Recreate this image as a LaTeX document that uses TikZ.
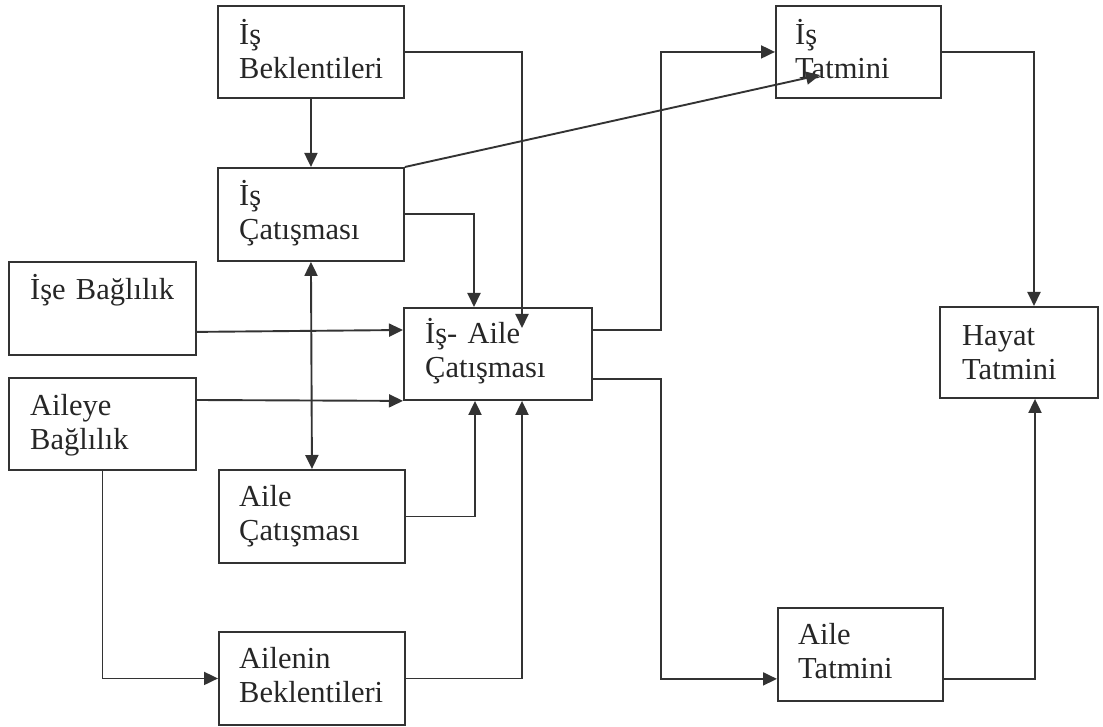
\documentclass[tikz,border=0pt]{standalone}
\usepackage{fontspec}
\setmainfont{Liberation Serif}
\usetikzlibrary{arrows.meta,calc}
\definecolor{ink}{HTML}{333333}
\begin{document}
\begin{tikzpicture}[x=1pt,y=-1pt,
  box/.style={draw=ink,line width=1.9pt,rectangle,inner sep=0pt,anchor=north west,minimum width=#1},
  box/.default=186pt,
  lbl/.style={anchor=base west,inner sep=0pt,text width=170pt,align=left,text=black!85,font=\fontsize{30.5}{34}\selectfont},
  arr/.style={draw=ink,line width=1.9pt,-{Triangle[length=14pt,width=13pt]}},
  darr/.style={draw=ink,line width=1.9pt,{Triangle[length=14pt,width=13pt]}-{Triangle[length=14pt,width=13pt]}}]
\useasboundingbox (0,0) rectangle (1103,727);
% boxes
\node[box=186pt,minimum height=92pt] (ib) at (217,5) {};
\node[box=186pt,minimum height=93pt] (ic) at (217,167) {};
\node[box=187pt,minimum height=93pt] (isb) at (8,261) {};
\node[box=187pt,minimum height=92pt] (ab) at (8,377) {};
\node[box=188pt,minimum height=92pt] (ia) at (403,307) {};
\node[box=186pt,minimum height=93pt] (ac) at (218,469) {};
\node[box=186pt,minimum height=93pt] (anb) at (218,631) {};
\node[box=165pt,minimum height=92pt] (it) at (775,5) {};
\node[box=158pt,minimum height=91pt] (ht) at (939,306) {};
\node[box=165pt,minimum height=93pt] (at) at (777,607) {};
% labels
\node[lbl] (tib) at ($(ib.north west)+(22,40)$) {İş\\Beklentileri};
\node[lbl] (tic) at ($(ic.north west)+(22,39)$) {İş\\Çatışması};
\node[lbl] (tisb) at ($(isb.north west)+(22,39)$) {İşe Bağlılık};
\node[lbl] (tab) at ($(ab.north west)+(22,38)$) {Aileye\\Bağlılık};
\node[lbl] (tia) at ($(ia.north west)+(22,37)$) {İş- Aile\\Çatışması};
\node[lbl] (tac) at ($(ac.north west)+(21,37)$) {Aile\\Çatışması};
\node[lbl] (tanb) at ($(anb.north west)+(21,37)$) {Ailenin\\Beklentileri};
\node[lbl] (tit) at ($(it.north west)+(20,40)$) {İş\\Tatmini};
\node[lbl] (tht) at ($(ht.north west)+(23,39)$) {Hayat\\Tatmini};
\node[lbl] (tat) at ($(at.north west)+(21,37)$) {Aile\\Tatmini};
% connectors
\coordinate (p2) at ($(ia.north west)+(119,21)$);
\coordinate (p4) at ($(it.north west)+(45,70)$);
\draw[arr] (ib.south) -- (ic.north);
\draw[arr] (ib.east) -| (p2);
\draw[arr] (ic.east) -| ($(ia.north west)+(71,0)$);
\draw[arr] (ic.north east) -- (p4);
\draw[arr] ($(ia.north east)+(0,23)$) -- ++(68,0) |- (it.west);
\draw[arr] ($(ia.south east)+(0,-22)$) -- ++(68,0) |- ($(at.south west)+(0,-23)$);
\draw[arr] (it.east) -| ($(ht.north west)+(95,0)$);
\draw[arr] ($(at.south east)+(0,-23)$) -| ($(ht.south west)+(96,0)$);
\draw[arr] ($(isb.south east)+(0,-24)$) -- ($(ia.north west)+(0,23)$);
\draw[arr] ($(ab.north east)+(0,23)$) -- (ia.south west);
\draw[darr] (ic.south) -- (ac.north);
\draw[arr] (ac.east) -| ($(ia.south west)+(72,0)$);
\draw[arr] (anb.east) -| ($(ia.south west)+(119,0)$);
\draw[arr] (ab.south) |- (anb.west);
\end{tikzpicture}
\end{document}
